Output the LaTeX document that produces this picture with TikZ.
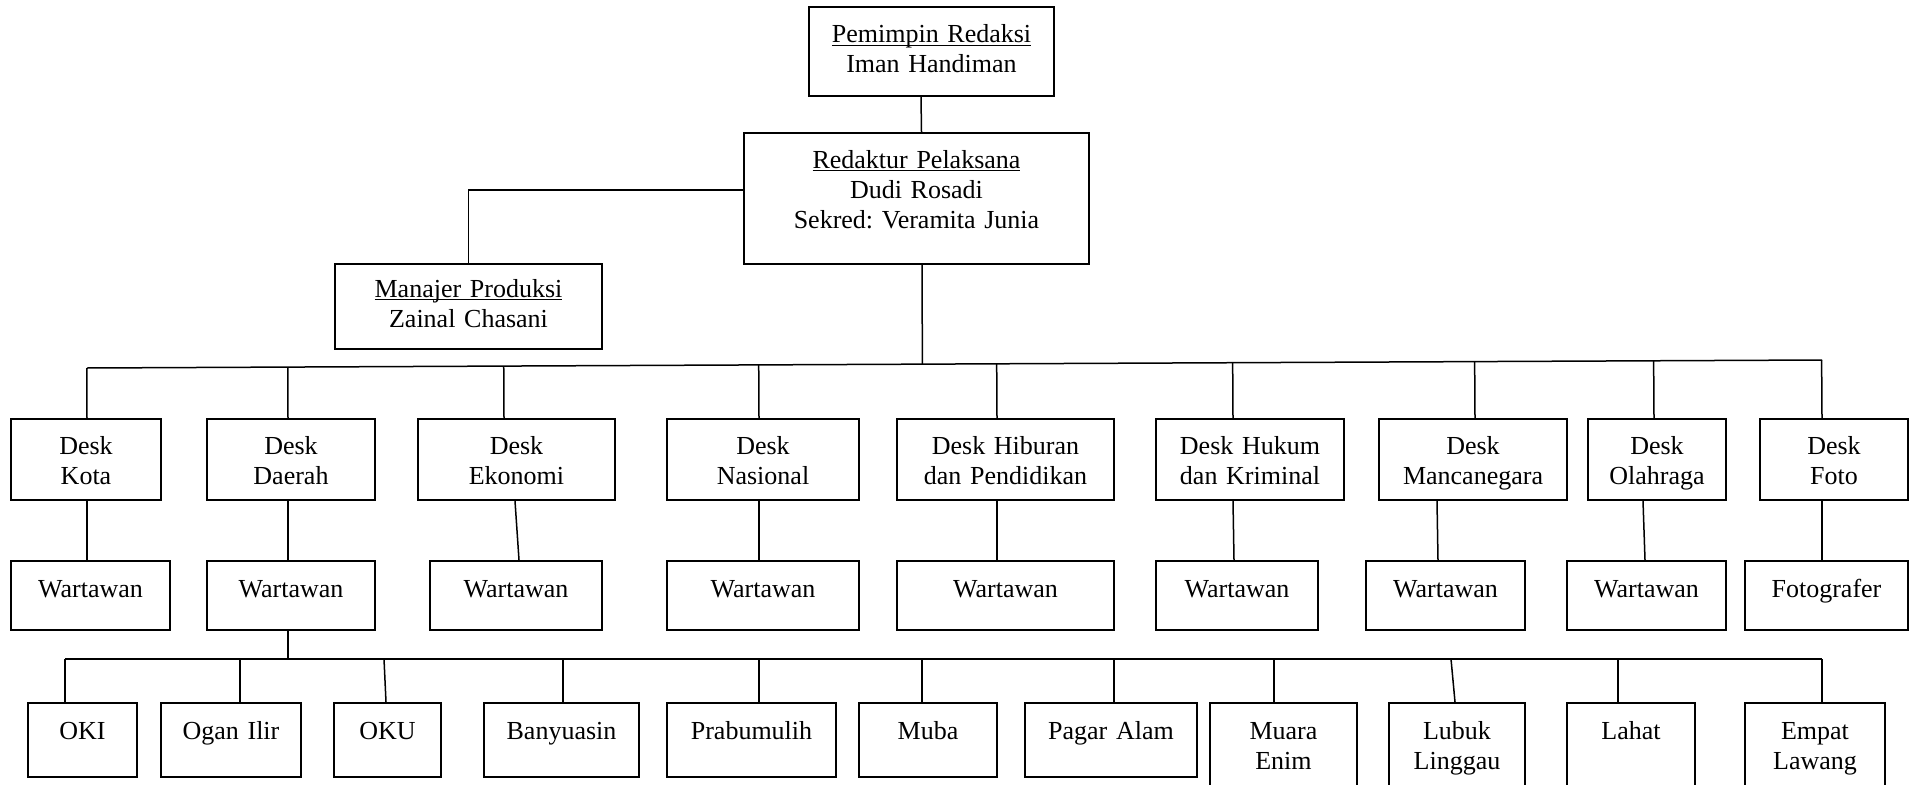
\documentclass[tikz,border=0pt]{standalone}
\usepackage{fontspec}
\setmainfont{Liberation Serif}
\frenchspacing
\usetikzlibrary{calc}
\newcommand\ulin[1]{\setbox0\hbox{#1}\rlap{\rule[-3pt]{\wd0}{1.4pt}}\box0}
\newcommand\orgbox[7]{%
  \pgfmathsetmacro\obw{#3-#2}%
  \pgfmathsetmacro\obd{#5-#4-#6}%
  \node[box, text width=\obw pt, text height=#6pt, text depth=\obd pt] (#1) at ({(#2+#3)/2},{(#4+#5)/2}) {#7};}
\newcommand\deskline[2]{%
  \coordinate (#1t) at ([xshift=#2pt]#1.north);
  \draw[conn] (#1t) -- ($(busL)!(#1t)!(busR)$);}
\newcommand\rowline[3]{%
  \draw[conn] ([xshift=#2pt]#1.north) -- ([xshift=#3pt]#1.north |- b2L);}
\newcommand\downline[4]{%
  \draw[conn] ([xshift=#2pt]#1.south) -- ([xshift=#4pt]#3.north);}
\begin{document}
\begin{tikzpicture}[x=1pt,y=-1pt,
  box/.style={draw, line width=2pt, inner sep=0pt, align=center,
    font=\fontsize{26pt}{30pt}\selectfont\frenchspacing},
  conn/.style={line width=1.5pt}]
\clip (0,0) rectangle (1913,784);
\fill[white] (0,0) rectangle (1913,784);
% top
\orgbox{pem}{809}{1054}{7}{96}{36}{\ulin{Pemimpin Redaksi}\\Iman Handiman}
\orgbox{red}{744}{1089}{133}{264}{35}{\ulin{Redaktur Pelaksana}\\Dudi Rosadi\\Sekred: Veramita Junia}
\orgbox{man}{335}{602}{264}{349}{33}{\ulin{Manajer Produksi}\\Zainal Chasani}
% desks
\orgbox{dkota}{11}{161}{419}{500}{35}{Desk\\Kota}
\orgbox{ddaerah}{207}{375}{419}{500}{35}{Desk\\Daerah}
\orgbox{dekonomi}{418}{615}{419}{500}{35}{Desk\\Ekonomi}
\orgbox{dnasional}{667}{859}{419}{500}{35}{Desk\\Nasional}
\orgbox{dhiburan}{897}{1114}{419}{500}{35}{Desk Hiburan\\dan Pendidikan}
\orgbox{dhukum}{1156}{1344}{419}{500}{35}{Desk Hukum\\dan Kriminal}
\orgbox{dmanca}{1379}{1567}{419}{500}{35}{Desk\\Mancanegara}
\orgbox{dolah}{1588}{1726}{419}{500}{35}{Desk\\Olahraga}
\orgbox{dfoto}{1760}{1908}{419}{500}{35}{Desk\\Foto}
% wartawan
\orgbox{wkota}{11}{170}{561}{630}{36}{Wartawan}
\orgbox{wdaerah}{207}{375}{561}{630}{36}{Wartawan}
\orgbox{wekonomi}{430}{602}{561}{630}{36}{Wartawan}
\orgbox{wnasional}{667}{859}{561}{630}{36}{Wartawan}
\orgbox{whiburan}{897}{1114}{561}{630}{36}{Wartawan}
\orgbox{whukum}{1156}{1318}{561}{630}{36}{Wartawan}
\orgbox{wmanca}{1366}{1525}{561}{630}{36}{Wartawan}
\orgbox{wolah}{1567}{1726}{561}{630}{36}{Wartawan}
\orgbox{wfoto}{1745}{1908}{561}{630}{36}{Fotografer}
% regions
\orgbox{oki}{28}{137}{703}{777}{36}{OKI}
\orgbox{ogan}{161}{301}{703}{777}{36}{Ogan Ilir}
\orgbox{oku}{334}{441}{703}{777}{36}{OKU}
\orgbox{banyu}{484}{639}{703}{777}{36}{Banyuasin}
\orgbox{prabu}{667}{836}{703}{777}{36}{Prabumulih}
\orgbox{muba}{859}{997}{703}{777}{36}{Muba}
\orgbox{pagar}{1025}{1197}{703}{777}{36}{Pagar Alam}
\orgbox{muara}{1210}{1357}{703}{800}{36}{Muara\\Enim}
\orgbox{lubuk}{1389}{1525}{703}{800}{36}{Lubuk\\Linggau}
\orgbox{lahat}{1567}{1695}{703}{800}{36}{Lahat}
\orgbox{empat}{1745}{1885}{703}{800}{36}{Empat\\Lawang}
% connectors top
\draw[conn] ([xshift=-10.5pt]pem.south) -- ([xshift=5pt]red.north);
\draw[conn] ([yshift=8.5pt]red.west) -| (man.north);
\coordinate (busL) at (87,368);
\coordinate (busR) at (1822,360);
\draw[conn] (busL) -- (busR);
\coordinate (rs) at ([xshift=5.5pt]red.south);
\draw[conn] (rs) -- ($(busL)!(rs)!(busR)$);
% bus to desks
\deskline{dkota}{1}
\deskline{ddaerah}{-3}
\deskline{dekonomi}{-12.5}
\deskline{dnasional}{-4}
\deskline{dhiburan}{-8.5}
\deskline{dhukum}{-17}
\deskline{dmanca}{2}
\deskline{dolah}{-3}
\deskline{dfoto}{-12}
% desk to wartawan
\downline{dkota}{1}{wkota}{-3.5}
\downline{ddaerah}{-3}{wdaerah}{-3}
\downline{dekonomi}{-1.5}{wekonomi}{3}
\downline{dnasional}{-4}{wnasional}{-4}
\downline{dhiburan}{-8.5}{whiburan}{-8.5}
\downline{dhukum}{-17}{whukum}{-3}
\downline{dmanca}{-36}{wmanca}{-7.5}
\downline{dolah}{-14}{wolah}{-1.5}
\downline{dfoto}{-12}{wfoto}{-4.5}
% second bus
\coordinate (b2L) at (65,659);
\coordinate (b2R) at (1822,659);
\draw[conn] (b2L) -- (b2R);
\draw[conn] ([xshift=-3pt]wdaerah.south) -- ([xshift=-3pt]wdaerah.south |- b2L);
\rowline{oki}{-17.5}{-17.5}
\rowline{ogan}{9}{9}
\rowline{oku}{-1.5}{-3.5}
\rowline{banyu}{1.5}{1.5}
\rowline{prabu}{7.5}{7.5}
\rowline{muba}{-6}{-6}
\rowline{pagar}{3}{3}
\rowline{muara}{-9.5}{-9.5}
\rowline{lubuk}{-2}{-6}
\rowline{lahat}{-13}{-13}
\rowline{empat}{7}{7}
\end{tikzpicture}
\end{document}
